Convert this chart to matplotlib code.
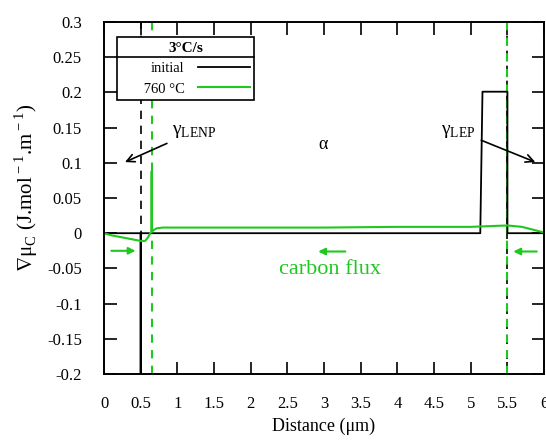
import matplotlib
matplotlib.use('Agg')
import matplotlib.pyplot as plt
from matplotlib.lines import Line2D

plt.rcParams['font.family'] = ['Liberation Serif', 'DejaVu Serif']
plt.rcParams['mathtext.fontset'] = 'custom'
plt.rcParams['mathtext.rm'] = 'Liberation Serif'
plt.rcParams['mathtext.fallback'] = 'stix'

green = '#1ec81e'

# initial profile (black)
x_init = [0, 0.5, 0.5, 0.5, 5.13, 5.16, 5.5, 5.5, 6]
y_init = [0, 0, -0.25, 0, 0, 0.201, 0.201, 0, 0]

# 760 C profile (green)
x_760 = [0, 0.1, 0.2, 0.3, 0.4, 0.5, 0.56, 0.6, 0.63, 0.645, 0.65, 0.655,
         0.67, 0.72, 0.8, 1.0, 2, 3, 4, 5, 5.5, 5.7, 6]
y_760 = [0, -0.003, -0.005, -0.007, -0.009, -0.011, -0.011, -0.006, 0.0,
         0.002, 0.088, 0.002, 0.004, 0.007, 0.008, 0.008, 0.008, 0.008,
         0.009, 0.009, 0.011, 0.009, 0.001]

interfaces_init = [0.5, 5.5]
interfaces_760 = [0.65, 5.5]

xticks = [0, 0.5, 1, 1.5, 2, 2.5, 3, 3.5, 4, 4.5, 5, 5.5, 6]
xticklabels = ['0', '0.5', '1', '1.5', '2', '2.5', '3', '3.5', '4', '4.5', '5', '5.5', '6']
yticks = [-0.2, -0.15, -0.1, -0.05, 0, 0.05, 0.1, 0.15, 0.2, 0.25, 0.3]
yticklabels = ['-0.2', '-0.15', '-0.1', '-0.05', '0', '0.05', '0.1', '0.15', '0.2', '0.25', '0.3']

fig = plt.figure(figsize=(5.46, 4.4), dpi=100)
ax = fig.add_axes([0.1905, 0.15, 0.806, 0.8])

for xv in interfaces_init:
    ax.axvline(xv, color='black', lw=1.2, dashes=(5, 4))
for xv in interfaces_760:
    ax.axvline(xv, color=green, lw=1.5, dashes=(4, 3.5))

ax.plot(x_init, y_init, color='black', lw=1.3, label='initial')
ax.plot(x_760, y_760, color=green, lw=1.5, label='      760 °C')

ax.set_xlim(0, 6)
ax.set_ylim(-0.2, 0.3)
ax.set_xticks(xticks)
ax.set_xticklabels(xticklabels)
ax.set_yticks(yticks)
ax.set_yticklabels(yticklabels)
ax.tick_params(direction='in', length=9, width=1.2, top=True, right=True,
               labelsize=12, pad=16)
for s in ax.spines.values():
    s.set_linewidth(1.4)

ax.set_xlabel('Distance (μm)', fontsize=13, labelpad=4)
ax.set_ylabel('$\\nabla$μ$_{\\rm C}$ (J.mol$^{\\rm -1}$.m$^{\\rm -1}$)', fontsize=15)
ax.yaxis.set_label_coords(-0.145, 0.53)

# annotations
ax.annotate('γ$_{\\rm LENP}$', xy=(0.286, 0.101), xytext=(0.93, 0.145),
            fontsize=14, va='center', ha='left',
            arrowprops=dict(arrowstyle='->', color='black', lw=1.2,
                            shrinkA=2, shrinkB=0, mutation_scale=14))
ax.annotate('γ$_{\\rm LEP}$', xy=(5.88, 0.101), xytext=(5.07, 0.145),
            fontsize=14, va='center', ha='right',
            arrowprops=dict(arrowstyle='->', color='black', lw=1.2,
                            shrinkA=2, shrinkB=0, mutation_scale=14))
ax.text(2.99, 0.126, 'α', fontsize=13, ha='center', va='center')

ax.text(3.08, -0.052, 'carbon flux', color=green, fontsize=16, ha='center', va='center')
arrow_kw = dict(arrowstyle='-|>', color=green, lw=1.5, mutation_scale=10,
                shrinkA=0, shrinkB=0)
ax.annotate('', xy=(2.92, -0.026), xytext=(3.29, -0.026), arrowprops=arrow_kw)
ax.annotate('', xy=(0.43, -0.025), xytext=(0.1, -0.025), arrowprops=arrow_kw)
ax.annotate('', xy=(5.58, -0.026), xytext=(5.9, -0.026), arrowprops=arrow_kw)

leg = ax.legend(loc='upper left', bbox_to_anchor=(0.03, 0.957), borderaxespad=0,
                markerfirst=False, fontsize=10.5, handlelength=3.6, handletextpad=0.9,
                labelspacing=0.5, borderpad=0.3,
                title='3°C/s', title_fontproperties={'weight': 'bold', 'size': 11},
                fancybox=False, framealpha=1, edgecolor='black')
leg.get_frame().set_linewidth(1.2)

fig.canvas.draw()
fb = leg.get_frame().get_window_extent()
tb = leg.get_title().get_window_extent()
inv = fig.transFigure.inverted()
y_sep = tb.y0 - 2
p0 = inv.transform((fb.x0, y_sep))
p1 = inv.transform((fb.x1, y_sep))
fig.add_artist(Line2D([p0[0], p1[0]], [p0[1], p1[1]], color='black', lw=1.2,
                      transform=fig.transFigure))

fig.savefig('out.png', dpi=100)
